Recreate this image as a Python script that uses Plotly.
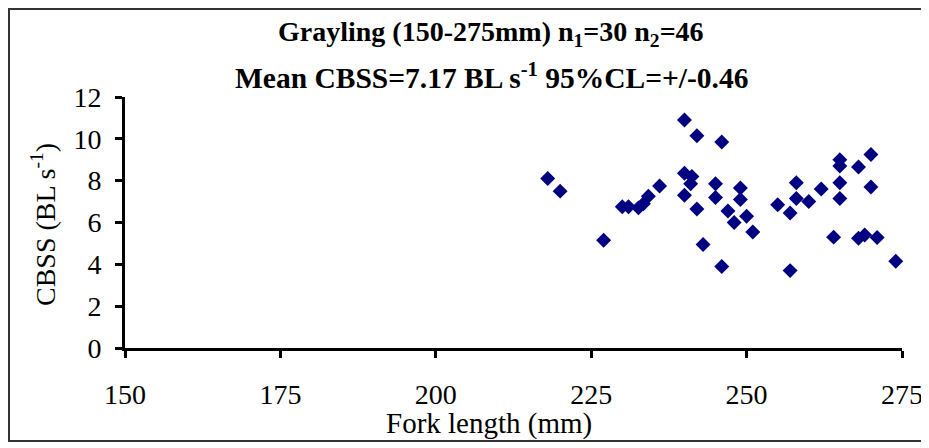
import plotly.graph_objects as go

fork_length = [218, 220, 227, 230, 231, 232.6, 233.4, 234.2, 236,
               240, 242, 246, 240, 241.2, 241, 240, 242, 243, 246,
               245, 245, 249, 249, 247, 248, 250, 251,
               255, 257, 258, 258, 260, 262,
               265, 265, 265, 265, 268, 270, 270,
               264, 268, 269, 271, 274, 257]
cbss = [8.1, 7.5, 5.15, 6.75, 6.75, 6.7, 6.9, 7.25, 7.75,
        10.9, 10.15, 9.85, 8.35, 8.2, 7.85, 7.3, 6.65, 4.95, 3.9,
        7.85, 7.2, 7.65, 7.1, 6.55, 6.0, 6.3, 5.55,
        6.85, 6.45, 7.9, 7.15, 7.0, 7.6,
        9.0, 8.7, 7.9, 7.15, 8.65, 9.25, 7.7,
        5.3, 5.25, 5.4, 5.28, 4.15, 3.7]

x_ticks = [150, 175, 200, 225, 250, 275]
y_ticks = [0, 2, 4, 6, 8, 10, 12]

title_1 = "Grayling (150-275mm) n<sub>1</sub>=30 n<sub>2</sub>=46"
title_2 = "Mean CBSS=7.17 BL s<sup>-1</sup> 95%CL=+/-0.46"
x_title = "Fork length (mm)"
y_title = "CBSS (BL s<sup>-1</sup>)"

OFF = 8  # page body margin
W, H = 929 - OFF, 448 - OFF
L, T = 125 - OFF, 97 - OFF
R = W - (902 - OFF)
B = H - (348 - OFF)
pw, ph = W - L - R, H - T - B

def px(xp):
    return (xp - OFF - L) / pw

def py(yp):
    return (H - B - (yp - OFF)) / ph

serif = "Liberation Serif, Times New Roman, serif"

fig = go.Figure()
fig.add_trace(go.Scatter(
    x=fork_length, y=cbss, mode="markers",
    marker=dict(symbol="diamond", size=11.5, color="#000080"),
    showlegend=False, cliponaxis=False,
))

axis_common = dict(
    showgrid=False, zeroline=False, showline=True, linecolor="black",
    linewidth=3, ticks="outside", ticklen=7, tickwidth=3, tickcolor="black",
    tickfont=dict(family=serif, size=28, color="black"), automargin=False,
    ticklabeloverflow="allow",
)
fig.update_xaxes(range=[150, 275], tickvals=x_ticks, ticklabelstandoff=12, **axis_common)
fig.update_yaxes(range=[0, 12], tickvals=y_ticks, ticklabelstandoff=8, **axis_common)

def ann(text, xp, yp, size, angle=0):
    return dict(text=text, x=px(xp), y=py(yp), xref="paper", yref="paper",
                xanchor="center", yanchor="middle", showarrow=False,
                textangle=angle, font=dict(family=serif, size=size, color="black"))

fig.update_layout(
    width=W, height=H,
    margin=dict(l=L, r=R, t=T, b=B),
    paper_bgcolor="white", plot_bgcolor="white",
    font=dict(family=serif, color="black"),
    shapes=[dict(type="rect", xref="paper", yref="paper",
                 x0=px(9), x1=px(926), y0=py(441), y1=py(9),
                 line=dict(color="#333333", width=2), fillcolor="rgba(0,0,0,0)")],
    annotations=[
        ann("<b>" + title_1 + "</b>", 491, 33, 28),
        ann("<b>" + title_2 + "</b>", 491, 76, 29.5),
        ann(x_title, 489, 423, 29),
        ann(y_title, 43, 225, 28, -90),
    ],
)

fig.write_html("out.html")
